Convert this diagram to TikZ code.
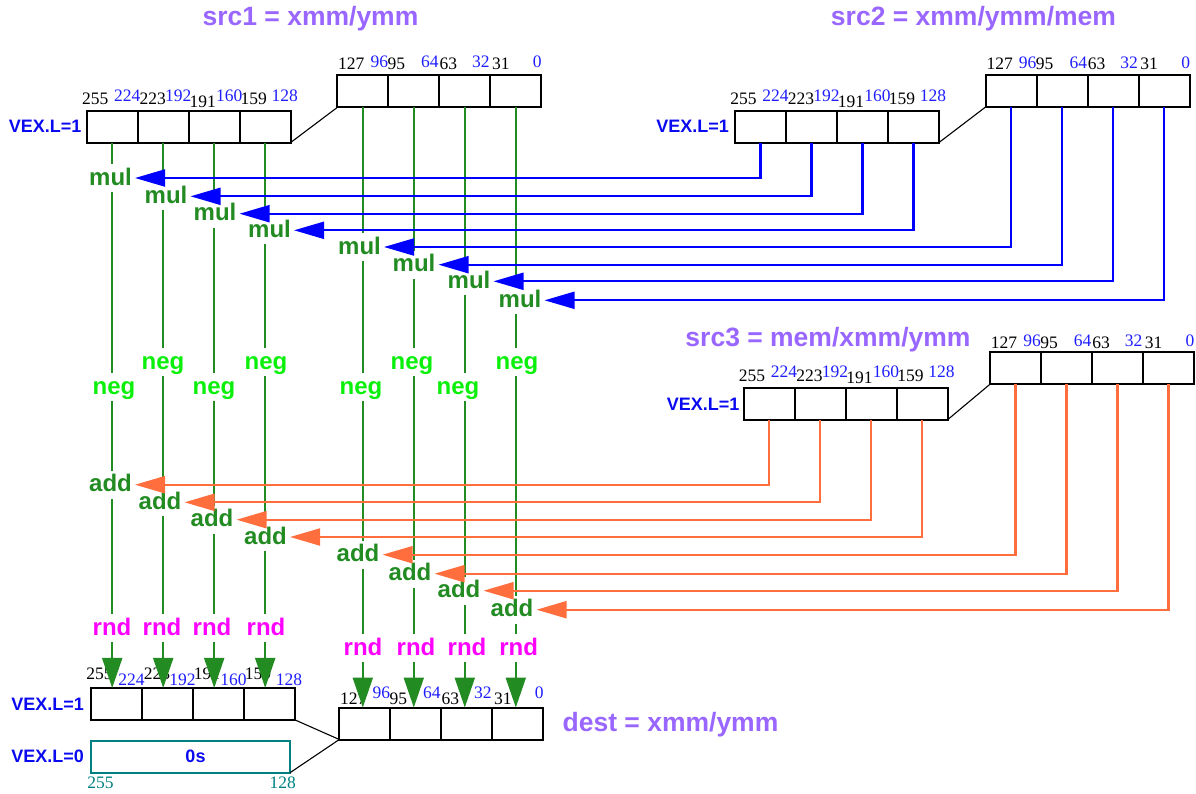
\documentclass[tikz,border=0pt]{standalone}
\usepackage{fontspec}
\setmainfont{Liberation Serif}
\setsansfont{Liberation Sans}
\usetikzlibrary{arrows.meta}
\definecolor{fgreen}{RGB}{34,139,34}
\definecolor{lgreen}{RGB}{10,240,10}
\definecolor{rndmag}{RGB}{255,0,255}
\definecolor{arrblue}{RGB}{0,0,255}
\definecolor{arrorange}{RGB}{255,110,60}
\definecolor{titlepurple}{RGB}{153,102,255}
\definecolor{vexblue}{RGB}{10,10,240}
\definecolor{numblue}{RGB}{30,30,255}
\definecolor{tealc}{RGB}{0,128,128}
\tikzset{
  cell/.style={draw=black, line width=2pt, minimum width=51pt, minimum height=32pt, inner sep=0pt, outer sep=0pt},
  num/.style={font=\fontsize{17.5}{17.5}\selectfont, inner sep=0pt, anchor=base},
  bk/.style={num, text=black},
  bl/.style={num, text=numblue},
  op/.style={font=\sffamily\bfseries\fontsize{24}{24}\selectfont, fill=white, inner xsep=3pt, inner ysep=2pt, text height=19pt, text depth=5pt, anchor=base},
  title/.style={font=\sffamily\bfseries\fontsize{26.5}{26.5}\selectfont, text=titlepurple, inner sep=0pt, anchor=base},
  vex/.style={font=\sffamily\bfseries\fontsize{18}{18}\selectfont, text=vexblue, inner sep=0pt, anchor=east},
  gline/.style={draw=fgreen, line width=2.1pt},
  garrow/.style={gline, -{Triangle[length=30pt,width=20pt]}},
  barrow/.style={draw=arrblue, line width=2.1pt, -{Triangle[length=30pt,width=17pt]}},
  oarrow/.style={draw=arrorange, line width=2.1pt, -{Triangle[length=30pt,width=17pt]}},
  conn/.style={draw=black, line width=1.1pt},
}
\newcommand\hinums[4]{%
  \node[bk] (#1n255) at ([shift={(8.5pt,#2)}]#11.north west) {255};
  \node[bl] (#1n224) at ([shift={(40.5pt,#3)}]#11.north west) {224};
  \node[bk] (#1n223) at ([shift={(66pt,#2)}]#11.north west) {223};
  \node[bl] (#1n192) at ([shift={(91.5pt,#3)}]#11.north west) {192};
  \node[bk] (#1n191) at ([shift={(116pt,#4)}]#11.north west) {191};
  \node[bl] (#1n160) at ([shift={(142.5pt,#3)}]#11.north west) {160};
  \node[bk] (#1n159) at ([shift={(167pt,#2)}]#11.north west) {159};
  \node[bl] (#1n128) at ([shift={(198pt,#3)}]#11.north west) {128};
}
\newcommand\lonums[3]{%
  \node[bk] (#1n127) at ([shift={(14pt,#2)}]#11.north west) {127};
  \node[bl] (#1n96) at ([shift={(42pt,#3)}]#11.north west) {96};
  \node[bk] (#1n95) at ([shift={(59pt,#2)}]#11.north west) {95};
  \node[bl] (#1n64) at ([shift={(92.6pt,#3)}]#11.north west) {64};
  \node[bk] (#1n63) at ([shift={(111pt,#2)}]#11.north west) {63};
  \node[bl] (#1n32) at ([shift={(143.5pt,#3)}]#11.north west) {32};
  \node[bk] (#1n31) at ([shift={(163.5pt,#2)}]#11.north west) {31};
  \node[bl] (#1n0) at ([shift={(200pt,#3)}]#11.north west) {0};
}
\begin{document}
\begin{tikzpicture}[x=1pt,y=-1pt]
\useasboundingbox (0,0) rectangle (1196,793);

% ---------- boxes ----------
\foreach \i/\x in {1/112.2,2/163.2,3/214.2,4/265.2} \node[cell] (s1h\i) at (\x,126.5) {};
\foreach \i/\x in {1/362.8,2/413.8,3/464.8,4/515.8} \node[cell] (s1l\i) at (\x,91.4) {};
\foreach \i/\x in {1/760.5,2/811.5,3/862.5,4/913.5} \node[cell] (s2h\i) at (\x,126.5) {};
\foreach \i/\x in {1/1011.2,2/1062.2,3/1113.2,4/1164.2} \node[cell] (s2l\i) at (\x,90.9) {};
\foreach \i/\x in {1/769,2/820,3/871,4/922} \node[cell] (s3h\i) at (\x,403.8) {};
\foreach \i/\x in {1/1015.5,2/1066.5,3/1117.5,4/1168.5} \node[cell] (s3l\i) at (\x,368.2) {};
\foreach \i/\x in {1/116.5,2/167.5,3/218.5,4/269.5} \node[cell] (dh\i) at (\x,703.9) {};
\foreach \i/\x in {1/364.8,2/415.8,3/466.8,4/517.8} \node[cell] (dl\i) at (\x,723.5) {};
\node[draw=tealc, line width=2pt, minimum width=199pt, minimum height=32pt, inner sep=0pt, outer sep=0pt,
      font=\sffamily\bfseries\fontsize{18}{18}\selectfont, text=vexblue] (zero) at (190.5,756.7) {\hspace*{10pt}0s};

% connectors between halves
\draw[conn] (s1h4.south east) -- (s1l1.south west);
\draw[conn] (s2h4.south east) -- (s2l1.south west);
\draw[conn] (s3h4.south east) -- (s3l1.south west);
\draw[conn] (dh4.south east) -- (dl1.south west);
\draw[conn] (zero.south east) -- (dl1.south west);

% ---------- titles and VEX labels ----------
\node[title] (t1) at (310.5,25.5) {src1 = xmm/ymm};
\node[title] (t2) at (973.5,25.5) {src2 = xmm/ymm/mem};
\node[title] (t3) at (828,346.7) {src3 = mem/xmm/ymm};
\node[title] (t4) at (670.5,731) {dest = xmm/ymm};
\node[vex] (v1) at ([xshift=-5pt]s1h1.west) {VEX.L=1};
\node[vex] (v2) at ([xshift=-6pt]s2h1.west) {VEX.L=1};
\node[vex] (v3) at ([xshift=-4pt]s3h1.west) {VEX.L=1};
\node[vex] (v4) at ([xshift=-7pt]dh1.west) {VEX.L=1};
\node[vex] (v5) at ([xshift=-7pt]zero.west) {VEX.L=0};

% ---------- bit numbers ----------
\hinums{s1h}{6pt}{9pt}{3.5pt}
\lonums{s1l}{5.5pt}{7.5pt}
\hinums{s2h}{6pt}{9pt}{3.5pt}
\lonums{s2l}{5pt}{6.7pt}
\hinums{s3h}{6.6pt}{10pt}{4.3pt}
\lonums{s3l}{4pt}{5.6pt}
\hinums{dh}{8pt}{2.7pt}{8pt}
\lonums{dl}{3pt}{9.5pt}
\node[num, text=tealc] (z255) at ([shift={(9.5pt,-15.3pt)}]zero.south west) {255};
\node[num, text=tealc] (z128) at ([shift={(191.7pt,-15.3pt)}]zero.south west) {128};

% ---------- green data lanes ----------
\foreach \i in {1,...,4} \draw[garrow] (s1h\i.south) -- (s1h\i.south |- dh\i.north);
\foreach \i in {1,...,4} \draw[garrow] (s1l\i.south) -- (s1l\i.south |- dl\i.north);

% ---------- operation labels ----------
\foreach \i/\x/\y in {1/110.5/185,2/166/203.3,3/215/220.7,4/269.5/237.3,5/359.5/254,6/414/271.7,7/469/288.3,8/520/307.3}
  \node[op, text=fgreen] (mul\i) at (\x,\y) {mul};
\foreach \i/\x/\y in {1/114/394,2/163/369,3/214/394,4/266/369,5/361/394,6/412/369,7/458/394,8/517/369}
  \node[op, text=lgreen] (neg\i) at (\x,\y) {neg};
\foreach \i/\x/\y in {1/110.5/491.7,2/160/509.3,3/212/526.7,4/265.5/544,5/358/561.7,6/410/580.7,7/459/597.7,8/512/616.7}
  \node[op, text=fgreen] (add\i) at (\x,\y) {add};
\foreach \i/\x/\y in {1/112/635,2/162/635,3/212/635,4/266/635,5/363/655,6/416/655,7/467/655,8/518.6/655}
  \node[op, text=rndmag] (rnd\i) at (\x,\y) {rnd};

% ---------- src2 -> mul arrows ----------
\foreach \i in {1,...,4} \draw[barrow] (s2h\i.south) |- (mul\i.east);
\foreach \i/\j in {5/1,6/2,7/3,8/4} \draw[barrow] (s2l\j.south) |- (mul\i.east);

% ---------- src3 -> add arrows ----------
\foreach \i in {1,...,4} \draw[oarrow] (s3h\i.south) |- (add\i.east);
\foreach \i/\j in {5/1,6/2,7/3,8/4} \draw[oarrow] (s3l\j.south) |- (add\i.east);
\end{tikzpicture}
\end{document}
